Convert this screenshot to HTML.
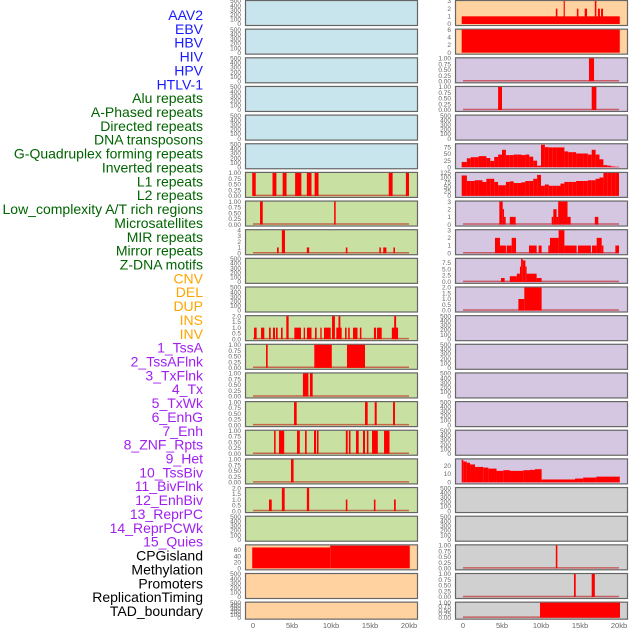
<!DOCTYPE html>
<html><head><meta charset="utf-8"><style>
html,body{margin:0;padding:0;background:#fff;width:630px;height:630px;overflow:hidden}
svg{display:block;font-family:"Liberation Sans",sans-serif}
</style></head><body>
<svg id="chart" width="630" height="630" viewBox="0 0 630 630" xmlns="http://www.w3.org/2000/svg">
<g id="labels"></g>
<g id="panels"></g>
<g id="xaxes"></g>
</svg>
<script>
const trackLabels = ["AAV2","EBV","HBV","HIV","HPV","HTLV-1","Alu repeats","A-Phased repeats","Directed repeats","DNA transposons","G-Quadruplex forming repeats","Inverted repeats","L1 repeats","L2 repeats","Low_complexity A/T rich regions","Microsatellites","MIR repeats","Mirror repeats","Z-DNA motifs","CNV","DEL","DUP","INS","INV","1_TssA","2_TssAFlnk","3_TxFlnk","4_Tx","5_TxWk","6_EnhG","7_Enh","8_ZNF_Rpts","9_Het","10_TssBiv","11_BivFlnk","12_EnhBiv","13_ReprPC","14_ReprPCWk","15_Quies","CPGisland","Methylation","Promoters","ReplicationTiming","TAD_boundary"];
const labelGroups = [6,13,5,15,5];
const xTickValues = [0,5,10,15,20];
const xTickLabels = ["0","5kb","10kb","15kb","20kb"];
const emptyTicks = ["0","100","200","300","400","500"];
const unitTicks = ["0.00","0.25","0.50","0.75","1.00"];
// Left column data [startKb, endKb, value]
const leftL1 = [[-0.1,0.35,1],[2.5,3.0,1],[3.8,4.3,1],[5.4,6.2,1],[6.9,7.5,1],[7.9,8.4,1],[17.4,17.9,1],[19.6,20.0,1]];
const leftR7 = [[0.9,1.25,1],[10.4,10.6,1]];
const leftR8 = [[3.08,3.3,1],[3.7,4.1,4],[6.9,7.2,1],[11.9,12.1,1],[16.2,16.4,1],[16.7,17.1,1],[18.0,18.2,1]];
const leftR11 = [[0.13,0.47,1],[1.03,1.45,1],[2.05,2.27,1],[2.56,2.82,1],[2.95,3.16,1],[3.59,3.8,1],[4.27,4.57,2],[5.3,6.15,1],[6.5,6.67,1],[6.92,7.5,1],[7.95,8.16,1],[8.63,8.8,1],[9.1,9.96,1],[10.13,10.5,2],[10.68,11.37,1],[10.96,11.2,2],[11.8,12.0,1],[12.2,12.4,1],[12.82,13.4,1],[13.7,13.9,1],[15.5,15.77,1],[15.9,16.5,1],[17.8,18.6,1],[18.1,18.35,2]];
const leftR12 = [[1.67,1.88,1],[7.86,10.1,1],[12.05,14.36,1]];
const leftR13 = [[6.4,7.1,1],[7.3,7.65,1]];
const leftR14 = [[5.26,5.6,1],[14.36,14.7,1],[15.6,15.86,1],[17.95,18.2,1]];
const leftR15 = [[2.7,2.9,1],[3.33,4.0,1],[5.64,6.0,1],[6.67,6.88,1],[7.82,8.08,1],[8.2,8.4,1],[11.9,12.14,1],[12.3,12.5,1],[13.2,13.55,1],[14.1,14.36,1],[14.6,14.8,1],[15.26,16.0,1],[16.8,17.5,1]];
const leftR16 = [[4.87,5.2,1]];
const leftR17 = [[2.05,2.4,1],[3.7,4.06,2],[6.9,7.2,2],[11.9,12.1,1],[15.5,15.7,1],[18.08,18.3,1]];
const leftCpg = [[-0.1,9.9,68],[9.9,20.1,74]];
// Right column data
const rightR0 = [[-0.17,20.1,1],[11.9,12.1,2],[12.9,13.05,3],[14.6,14.8,2],[15.6,15.9,2],[16.9,17.1,3],[17.3,17.55,2],[17.7,17.95,2]];
const rightR1 = [[-0.17,20.1,6]];
const rightR2 = [[16.15,16.8,1]];
const rightR3 = [[4.5,5.0,1],[16.5,17.1,1]];
const gquadValues = [20,34,38,38,42,42,35,24,39,48,66,46,46,48,48,46,48,40,25,6,85,76,75,75,75,75,60,57,57,52,52,52,48,66,48,30,8,6,3,2];
const rightR6Values = [111,81,81,85,85,76,93,93,76,58,58,76,79,70,70,74,81,81,93,114,55,62,55,55,55,67,76,76,76,81,81,81,85,85,93,100,125,125,125,125];
const rightR7 = [[4.66,5.09,3],[5.09,5.26,2],[5.26,5.47,1],[6.0,6.75,1],[11.37,11.58,1],[11.58,12.0,2],[12.0,12.2,1],[12.2,13.4,3],[13.4,13.8,1],[16.9,17.35,1]];
const rightR8 = [[4.1,4.74,2],[4.74,5.5,1],[5.6,6.24,1],[6.24,6.8,2],[8.46,9.44,1],[9.7,10.08,1],[10.94,11.15,1],[11.15,12.26,2],[12.26,13.0,3],[13.0,14.57,1],[14.74,16.4,1],[16.54,17.14,1],[17.14,17.78,2],[17.78,18.0,1],[19.53,20.0,1]];
const rightR9 = [[4.87,5.34,1.5],[6.0,6.9,2.2],[6.9,7.3,3.2],[7.3,7.44,6],[7.44,7.65,9],[7.65,8.0,8.4],[8.0,8.16,6],[8.16,9.44,3.2],[9.44,10.08,1.5]];
const rightR10 = [[7.1,7.86,1],[7.86,10.08,2]];
const hetSegs = [[-0.17,0.04,27],[0.04,0.47,25],[0.47,0.9,23.5],[0.9,1.54,21.5],[1.54,2.6,18.5],[2.6,3.25,17.7],[3.25,4.3,16.5],[4.3,5.17,13.8],[5.17,6.03,14.6],[6.03,7.74,13.8],[7.74,8.59,14.6],[8.59,9.23,15],[9.23,10.08,15.8],[10.08,14.36,3.5],[14.36,15.4,4.6],[15.4,17.1,5.8],[17.1,20.1,6.9]];
const rightR19 = [[11.9,12.1,1]];
const rightR20 = [[14.23,14.45,1],[16.5,16.9,1]];
const rightR21 = [[9.87,20.13,1]];

const NS = "http://www.w3.org/2000/svg";
function mk(tag, attrs, parent){const e=document.createElementNS(NS,tag);for(const k in attrs)e.setAttribute(k,attrs[k]);parent.appendChild(e);return e;}
function binsToSegs(vals){return vals.map((v,i)=>[i===0?-0.17:i*0.5,(i+1)*0.5,v]);}
const C = {blue:"#c8e4ec",green:"#c8e1a2",peach:"#ffd2a0",lav:"#d5c6e2",grey:"#d0d0d0"};
const colX = [245,455], colZero=[253,463], KB=7.8, PW=172;
function rowTop(r){return r*28.65;}
function rowH(r){return r===21?17:25;}
function xScale(col,kb){return colZero[col]+kb*KB;}
function lp(ticks,ymax,segs,baseline){return {ticks,ymax,segs,baseline};}
const E = lp(emptyTicks,500,[],false);
const U = (s)=>lp(unitTicks,1,s,true);
const leftPanels = [E,E,E,E,E,E,U(leftL1),U(leftR7),lp(["0","1","2","3","4"],4,leftR8,true),E,E,lp(["0.0","0.5","1.0","1.5","2.0"],2,leftR11,true),U(leftR12),U(leftR13),U(leftR14),U(leftR15),U(leftR16),lp(["0.0","0.5","1.0","1.5","2.0"],2,leftR17,true),E,lp(["0","20","40","60"],75,leftCpg,false),E,E];
const rightPanels = [lp(["0","1","2","3"],3,rightR0,false),lp(["0","2","4","6"],6,rightR1,false),U(rightR2),U(rightR3),E,lp(["0","25","50","75"],87,binsToSegs(gquadValues),false),lp(["0","25","50","75","100","125"],125,binsToSegs(rightR6Values),false),lp(["0","1","2","3"],3,rightR7,true),lp(["0","1","2","3"],3,rightR8,true),lp(["0.0","2.5","5.0","7.5"],9,rightR9,true),lp(["0.0","0.5","1.0","1.5","2.0"],2,rightR10,true),E,E,E,E,E,lp(["0","10","20"],27.5,hetSegs,false),E,E,U(rightR19),U(rightR20),U(rightR21)];
function bgFor(col,r){if(col===0)return r<6?C.blue:(r<19?C.green:C.peach);return r<2?C.peach:(r<17?C.lav:C.grey);}

const gp=document.getElementById('panels');
[leftPanels,rightPanels].forEach((panels,col)=>{
  panels.forEach((p,r)=>{
    const top=rowTop(r), h=rowH(r), bottom=top+h;
    const g=mk('g',{},gp);
    
    
    const bg=mk('rect',{x:colX[col]+0.5,y:top+0.5,width:PW,height:h,fill:bgFor(col,r),stroke:'#666','stroke-width':1.2},g);
    
    
    const yS=v=>bottom-1-v/p.ymax*(h-2);
    const tmax=parseFloat(p.ticks[p.ticks.length-1]);
    p.ticks.forEach(t=>{
      const v=parseFloat(t);
      const ty=bottom-1-(v/tmax)*(h-2)*(Math.min(1,tmax/p.ymax)) ;
      const tx=mk('text',{x:colX[col]-4,y:ty+2.2,'font-size':6.5,fill:'#666','text-anchor':'end'},g);
      tx.textContent=t;
      
      
    });
    if(p.baseline){
      const bl=mk('line',{x1:xScale(col,0),x2:xScale(col,20),y1:bottom-1.5,y2:bottom-1.5,stroke:'rgba(190,20,20,0.6)','stroke-width':1.5},g);
      
      
    }
    p.segs.forEach(s=>{
      const x0=xScale(col,s[0]),x1=xScale(col,s[1]);
      const y0=Math.max(top+1,yS(s[2]));
      const b=mk('rect',{x:x0,y:y0,width:Math.max(1.2,x1-x0),height:bottom-1-y0,fill:'#ff0000'},g);
      
      
    });
  });
});

const gx=document.getElementById('xaxes');
[0,1].forEach(col=>{
  xTickValues.forEach((v,i)=>{
    const t=mk('text',{x:xScale(col,v),y:628,'font-size':7.5,fill:'#666','text-anchor':'middle'},gx);
    t.textContent=xTickLabels[i];
    
    
  });
});

const gl=document.getElementById('labels');
const groupColors=["#1a1aff","#006400","#ffa500","#a020f0","#000000"];
let idx=0;
labelGroups.forEach((n,gi)=>{
  for(let k=0;k<n;k++){
    const t=mk('text',{x:203,y:15+idx*13.86+5,'font-size':14,fill:groupColors[gi],'text-anchor':'end'},gl);
    t.textContent=trackLabels[idx];
    
    
    idx++;
  }
});
</script>
</body></html>
